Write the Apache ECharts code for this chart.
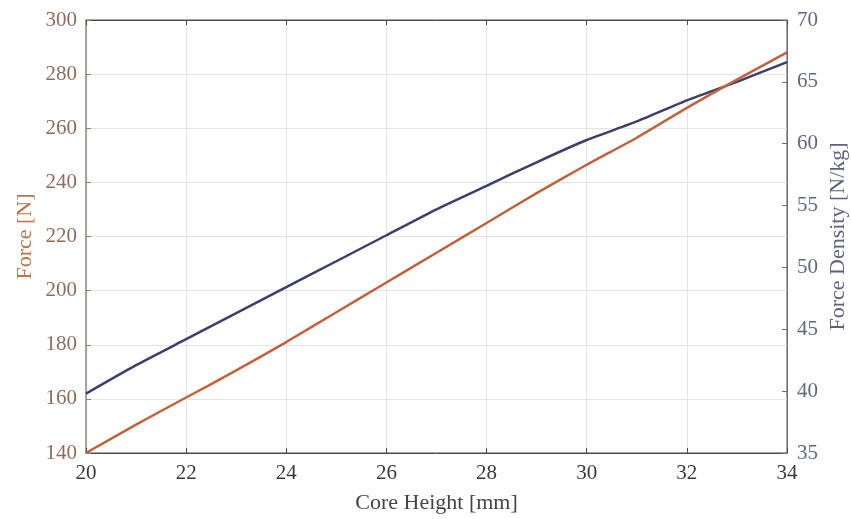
<!DOCTYPE html>
<html>
<head>
<meta charset="utf-8">
<script src="https://cdn.jsdelivr.net/npm/echarts@6/dist/echarts.min.js"></script>
<style>
html, body { margin: 0; padding: 0; background: #fff; }
#chart { width: 851px; height: 519px; }
</style>
</head>
<body>
<div id="chart"></div>
<script>
// 数据
const coreHeight = [20, 21, 22, 23, 24, 25, 26, 27, 28, 29, 30, 31, 32, 33, 34];
const force = [140, 150.5, 160.5, 170.5, 181, 192, 203, 214, 225, 236, 246.5, 256.5, 267.5, 278, 288];
const forceDensity = [39.8, 42.1, 44.2, 46.3, 48.4, 50.5, 52.6, 54.7, 56.6, 58.5, 60.3, 61.8, 63.5, 65.0, 66.6];

const forceColor = '#c0623a';
const densityColor = '#3c3f6c';
const fontFamily = '"Liberation Serif", "DejaVu Serif", serif';

const pairs = (xs, ys) => xs.map((x, i) => [x, ys[i]]);

const chart = echarts.init(document.getElementById('chart'));
chart.setOption({
	backgroundColor: '#fff',
	animation: false,
	textStyle: { fontFamily },
	grid: {
		left: 86, right: 64, top: 20, bottom: 66,
		containLabel: false,
		outerBoundsMode: 'none',
		show: true,
		borderColor: '#4a4a4a',
		borderWidth: 1
	},
	xAxis: [{
		type: 'value',
		min: 20, max: 34, interval: 2,
		name: 'Core Height [mm]',
		nameLocation: 'middle',
		nameGap: 39,
		nameMoveOverlap: false,
		nameTextStyle: { color: '#444', fontSize: 22, fontFamily },
		axisLine: { show: true, lineStyle: { color: '#4a4a4a' } },
		axisTick: { show: true, inside: true, length: 5, lineStyle: { color: '#4a4a4a' } },
		axisLabel: { color: '#3a3a3a', fontSize: 21, fontFamily, margin: 10 },
		splitLine: { show: true, lineStyle: { color: '#e4e4e4' } }
	}, {
		type: 'value',
		position: 'top',
		min: 20, max: 34, interval: 2,
		axisLine: { show: true, lineStyle: { color: '#4a4a4a' } },
		axisTick: { show: true, inside: true, length: 5, lineStyle: { color: '#4a4a4a' } },
		axisLabel: { show: false },
		splitLine: { show: false }
	}],
	yAxis: [{
		type: 'value',
		min: 140, max: 300, interval: 20,
		name: 'Force [N]',
		nameLocation: 'middle',
		nameGap: 50,
		nameMoveOverlap: false,
		nameTextStyle: { color: '#b8734f', fontSize: 22, fontFamily },
		axisLine: { show: true, lineStyle: { color: '#b59a8a' } },
		axisTick: { show: true, inside: true, length: 5, lineStyle: { color: '#9a7a6a' } },
		axisLabel: { color: '#8f6c5c', fontSize: 21, fontFamily, margin: 9 },
		splitLine: { show: true, lineStyle: { color: '#e4e4e4' } }
	}, {
		type: 'value',
		position: 'right',
		min: 35, max: 70, interval: 5,
		name: 'Force Density [N/kg]',
		nameLocation: 'middle',
		nameGap: 40,
		nameRotate: 90,
		nameMoveOverlap: false,
		nameTextStyle: { color: '#5e6080', fontSize: 22, fontFamily },
		axisLine: { show: true, lineStyle: { color: '#6a6c8a' } },
		axisTick: { show: true, inside: true, length: 5, lineStyle: { color: '#6a6c8a' } },
		axisLabel: { color: '#64667f', fontSize: 21, fontFamily, margin: 10 },
		splitLine: { show: false }
	}],
	series: [{
		name: 'Force',
		type: 'line',
		xAxisIndex: 0,
		yAxisIndex: 0,
		data: pairs(coreHeight, force),
		showSymbol: false,
		smooth: 0.2,
		lineStyle: { color: forceColor, width: 2.5 },
		itemStyle: { color: forceColor },
		z: 3
	}, {
		name: 'Force Density',
		type: 'line',
		xAxisIndex: 0,
		yAxisIndex: 1,
		data: pairs(coreHeight, forceDensity),
		showSymbol: false,
		smooth: 0.2,
		lineStyle: { color: densityColor, width: 2.5 },
		itemStyle: { color: densityColor },
		z: 2
	}]
});
</script>
</body>
</html>
